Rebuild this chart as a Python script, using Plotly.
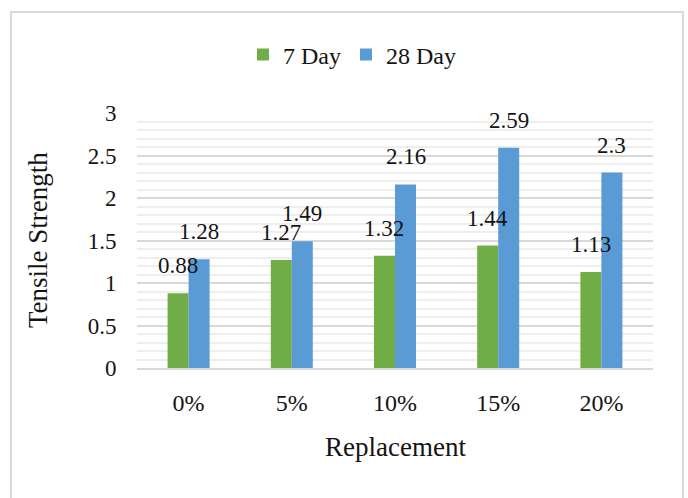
import plotly.graph_objects as go

categories = ["0%", "5%", "10%", "15%", "20%"]
day7 = [0.88, 1.27, 1.32, 1.44, 1.13]
day28 = [1.28, 1.49, 2.16, 2.59, 2.3]
day7_labels = ["0.88", "1.27", "1.32", "1.44", "1.13"]
day28_labels = ["1.28", "1.49", "2.16", "2.59", "2.3"]
y_ticks = [0, 0.5, 1, 1.5, 2, 2.5, 3]
y_tick_text = ["0", "0.5", "1", "1.5", "2", "2.5", "3"]

FONT = "Liberation Serif, Times New Roman, serif"
GREEN = "#70AD47"
BLUE = "#5B9BD5"
TXT = "#141414"

W, H = 688, 498
L, R, T, B = 137, 35, 113, 130
pw, ph = W - L - R, H - T - B

def px_x(p):
    return (p - L) / pw

def px_y(p):
    return (H - B - p) / ph

fig = go.Figure()
fig.add_trace(go.Bar(name="7 Day", x=categories, y=day7, marker=dict(color=GREEN, line=dict(width=0))))
fig.add_trace(go.Bar(name="28 Day", x=categories, y=day28, marker=dict(color=BLUE, line=dict(width=0))))

annotations = []
bar_px = pw / len(categories) * (1 - 0.593) / 2
for c, v, t in zip(categories, day7, day7_labels):
    annotations.append(dict(x=c, y=v, text=t, showarrow=False, xref="x", yref="y",
                            xshift=-bar_px / 2, yshift=13, yanchor="bottom",
                            font=dict(family=FONT, size=23, color=TXT)))
for c, v, t in zip(categories, day28, day28_labels):
    annotations.append(dict(x=c, y=v, text=t, showarrow=False, xref="x", yref="y",
                            xshift=bar_px / 2, yshift=13, yanchor="bottom",
                            font=dict(family=FONT, size=23, color=TXT)))

annotations.append(dict(text="Tensile Strength", textangle=-90, showarrow=False,
                        xref="paper", yref="paper", x=px_x(38), y=px_y(240),
                        xanchor="center", yanchor="middle",
                        font=dict(family=FONT, size=27, color=TXT)))
annotations.append(dict(text="Replacement", showarrow=False,
                        xref="paper", yref="paper", x=px_x(395), y=px_y(447),
                        xanchor="center", yanchor="middle",
                        font=dict(family=FONT, size=27, color=TXT)))

fig.update_layout(
    width=W, height=H,
    margin=dict(l=L, r=R, t=T, b=B, autoexpand=False),
    paper_bgcolor="white", plot_bgcolor="white",
    font=dict(family=FONT, color=TXT),
    barmode="group", bargap=0.593, bargroupgap=0,
    showlegend=True,
    legend=dict(orientation="h", x=px_x(352), y=px_y(55), xanchor="center", yanchor="middle",
                font=dict(family=FONT, size=24, color=TXT),
                itemwidth=30, tracegroupgap=0, bgcolor="rgba(0,0,0,0)"),
    annotations=annotations,
    shapes=[dict(type="rect", xref="paper", yref="paper",
                 x0=px_x(11), x1=px_x(683), y0=px_y(520), y1=px_y(12),
                 line=dict(color="#d9d9d9", width=2), layer="below")],
)

fig.update_yaxes(range=[0, 3], tickvals=y_ticks, ticktext=y_tick_text,
                 showgrid=True, gridcolor="#d9d9d9", gridwidth=2,
                 minor=dict(dtick=0.1, showgrid=True, gridcolor="#eeeeee", gridwidth=2, tick0=0),
                 zeroline=False, showline=False,
                 ticks="outside", ticklen=15, tickcolor="rgba(0,0,0,0)",
                 tickfont=dict(family=FONT, size=23, color=TXT), fixedrange=True)
fig.update_xaxes(showline=True, linecolor="#d9d9d9", linewidth=2,
                 ticks="outside", ticklen=12, tickcolor="rgba(0,0,0,0)",
                 tickfont=dict(family=FONT, size=24, color=TXT), showgrid=False)

fig.write_html("out.html", config={"displayModeBar": False},
               post_script="document.body.style.margin='0';document.body.style.overflow='hidden';")
